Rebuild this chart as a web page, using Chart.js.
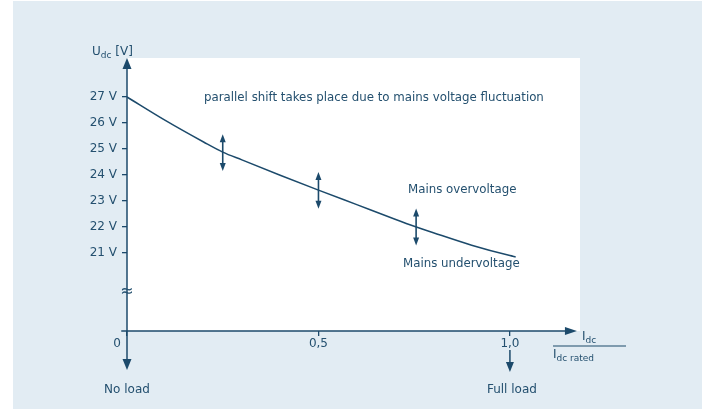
<!DOCTYPE html>
<html>
<head>
<meta charset="utf-8">
<script src="https://cdn.jsdelivr.net/npm/chart.js@4"></script>
<style>
html,body{margin:0;padding:0;background:#ffffff;}
#c{display:block;}
</style>
</head>
<body>
<canvas id="c" width="702" height="409"></canvas>
<script>
// ---- data ----
const loadRatio = [0, 0.1, 0.2, 0.25, 0.3, 0.4, 0.5, 0.6, 0.7, 0.75, 0.8, 0.9, 1.0, 1.015];
const udcVolts  = [27.00, 26.10, 25.27, 24.88, 24.58, 23.99, 23.42, 22.86, 22.30, 22.03, 21.78, 21.30, 20.90, 20.85];
const yTickValues = [21, 22, 23, 24, 25, 26, 27];
const xTickValues = [0, 0.5, 1.0];
const xTickLabels = ['0', '0,5', '1,0'];
const shiftArrowX = [0.25, 0.5, 0.755];
const shiftArrowY = [24.86, 23.41, 22.0];
const shiftHalf = 0.71;

const TXT = '#24506f';
const AX = '#1c4a6b';
const PANEL = '#e2ecf3';
const FONT = '"DejaVu Sans", sans-serif';

function tri(ctx, tipX, tipY, dir, len, half) {
  ctx.beginPath();
  if (dir === 'up') { ctx.moveTo(tipX, tipY); ctx.lineTo(tipX - half, tipY + len); ctx.lineTo(tipX + half, tipY + len); }
  else if (dir === 'down') { ctx.moveTo(tipX, tipY); ctx.lineTo(tipX - half, tipY - len); ctx.lineTo(tipX + half, tipY - len); }
  else { ctx.moveTo(tipX, tipY); ctx.lineTo(tipX - len, tipY - half); ctx.lineTo(tipX - len, tipY + half); }
  ctx.closePath();
  ctx.fill();
}

function subText(ctx, x, y, main, sub, tail, size, subSize) {
  ctx.textAlign = 'left';
  ctx.textBaseline = 'alphabetic';
  ctx.font = size + 'px ' + FONT;
  ctx.fillText(main, x, y);
  let w = ctx.measureText(main).width;
  ctx.font = subSize + 'px ' + FONT;
  ctx.fillText(sub, x + w, y + 3);
  w += ctx.measureText(sub).width;
  if (tail) {
    ctx.font = size + 'px ' + FONT;
    ctx.fillText(tail, x + w, y);
  }
}

const decor = {
  id: 'decor',
  beforeDraw(chart) {
    const ctx = chart.ctx, a = chart.chartArea;
    ctx.save();
    ctx.fillStyle = PANEL;
    ctx.fillRect(13, 1, chart.width - 13, chart.height - 1);
    ctx.fillStyle = '#ffffff';
    ctx.fillRect(a.left, a.top, a.right - a.left, a.bottom - a.top);
    ctx.restore();
  },
  afterDraw(chart) {
    const ctx = chart.ctx, xs = chart.scales.x, ys = chart.scales.y;
    const x0 = xs.getPixelForValue(0);
    const yAxis = ys.getPixelForValue(18);
    ctx.save();
    ctx.strokeStyle = AX; ctx.fillStyle = AX; ctx.lineWidth = 1.5;
    // y axis with arrows
    const yTop = ys.getPixelForValue(28.5), yBot = ys.getPixelForValue(16.5);
    ctx.beginPath(); ctx.moveTo(x0, yTop + 4); ctx.lineTo(x0, yBot - 4); ctx.stroke();
    tri(ctx, x0, yTop, 'up', 11, 4.5);
    tri(ctx, x0, yBot, 'down', 11, 4.5);
    // x axis with arrow
    const xL = xs.getPixelForValue(-0.015), xR = xs.getPixelForValue(1.175);
    ctx.beginPath(); ctx.moveTo(xL, yAxis); ctx.lineTo(xR - 4, yAxis); ctx.stroke();
    tri(ctx, xR, yAxis, 'right', 12, 4);
    // full load arrow
    const x1 = xs.getPixelForValue(1.0);
    ctx.beginPath(); ctx.moveTo(x1, yAxis + 19); ctx.lineTo(x1, yAxis + 35); ctx.stroke();
    tri(ctx, x1, yAxis + 41, 'down', 10, 4);
    // shift arrows
    ctx.lineWidth = 1.6;
    shiftArrowX.forEach((v, i) => {
      const px = xs.getPixelForValue(v);
      const pt = ys.getPixelForValue(shiftArrowY[i] + shiftHalf);
      const pb = ys.getPixelForValue(shiftArrowY[i] - shiftHalf);
      ctx.beginPath(); ctx.moveTo(px, pt + 4); ctx.lineTo(px, pb - 4); ctx.stroke();
      tri(ctx, px, pt, 'up', 8, 3);
      tri(ctx, px, pb, 'down', 8, 3);
    });
    // axis break symbol
    ctx.fillStyle = TXT;
    ctx.font = '16px ' + FONT;
    ctx.textAlign = 'center'; ctx.textBaseline = 'middle';
    ctx.fillText('\u2248', x0, ys.getPixelForValue(19.5));
    // x tick labels
    ctx.font = '12px ' + FONT;
    xTickValues.forEach((v, i) => {
      let px = xs.getPixelForValue(v);
      if (v === 0) px -= 10;
      ctx.fillText(xTickLabels[i], px, yAxis + 13);
    });
    ctx.fillText('No load', x0, yAxis + 59);
    ctx.fillText('Full load', x1 + 2, yAxis + 59);
    // annotations
    ctx.textAlign = 'left';
    ctx.font = '11.8px ' + FONT;
    ctx.fillText('parallel shift takes place due to mains voltage fluctuation', 204, 98);
    ctx.fillText('Mains overvoltage', 408, 190);
    ctx.fillText('Mains undervoltage', 403, 264);
    // axis titles
    subText(ctx, 92, 55, 'U', 'dc', ' [V]', 12, 9);
    subText(ctx, 582, 340, 'I', 'dc', '', 12, 9);
    subText(ctx, 553, 358, 'I', 'dc rated', '', 12, 9);
    ctx.strokeStyle = AX; ctx.lineWidth = 1.2;
    ctx.beginPath(); ctx.moveTo(553, 346); ctx.lineTo(626, 346); ctx.stroke();
    ctx.restore();
  }
};

new Chart(document.getElementById('c'), {
  type: 'line',
  data: {
    datasets: [{
      data: loadRatio.map((x, i) => ({ x: x, y: udcVolts[i] })),
      borderColor: AX,
      borderWidth: 1.5,
      pointRadius: 0,
      tension: 0.4,
      cubicInterpolationMode: 'monotone',
      fill: false
    }]
  },
  options: {
    responsive: false,
    animation: false,
    events: [],
    layout: { padding: { left: 0, top: 58, right: 122, bottom: 0 } },
    plugins: { legend: { display: false }, tooltip: { enabled: false } },
    scales: {
      x: {
        type: 'linear', min: 0, max: 1.183,
        afterBuildTicks: s => { s.ticks = xTickValues.map(v => ({ value: v })); },
        afterFit: s => { s.height = 78; },
        ticks: { display: false },
        grid: { drawOnChartArea: false, drawTicks: true, tickLength: 5, color: AX, lineWidth: 1.3 },
        border: { display: false }
      },
      y: {
        type: 'linear', min: 18, max: 28.5,
        afterBuildTicks: s => { s.ticks = yTickValues.map(v => ({ value: v })); },
        afterFit: s => { s.width = 127; },
        ticks: {
          callback: v => v + ' V',
          color: TXT, padding: 5,
          font: { family: '"DejaVu Sans", sans-serif', size: 12 }
        },
        grid: { drawOnChartArea: false, drawTicks: true, tickLength: 5, color: AX, lineWidth: 1.3 },
        border: { display: false }
      }
    }
  },
  plugins: [decor]
});
</script>
</body>
</html>
